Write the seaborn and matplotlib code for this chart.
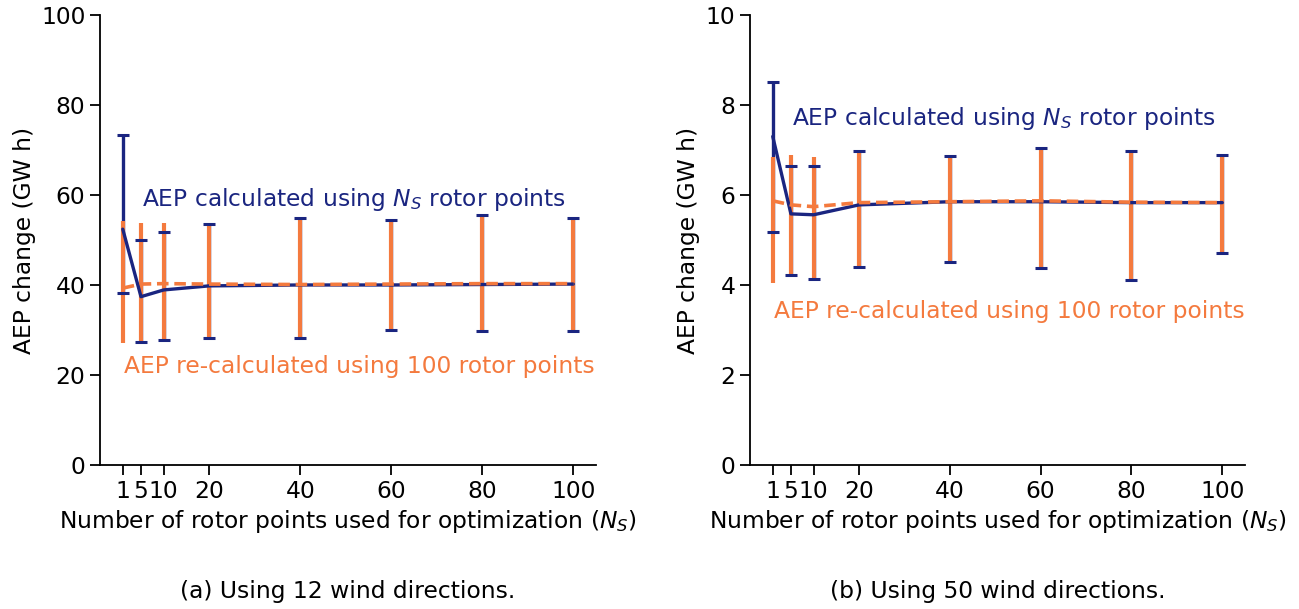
import numpy as np
import pandas as pd
import seaborn as sns
import matplotlib
matplotlib.use("Agg")
import matplotlib.pyplot as plt

# -------- Data -------- #

n_points = [1, 5, 10, 20, 40, 60, 80, 100]
tick_labels = ["1", "5", "10", "20", "40", "60", "80", "100"]

# (a) 12 wind directions
a_calc_mean = [52.4, 37.4, 38.9, 39.8, 40.0, 40.0, 40.1, 40.2]
a_calc_low = [38.3, 27.4, 27.8, 28.2, 28.2, 29.9, 29.8, 29.8]
a_calc_high = [73.3, 50.1, 51.8, 53.6, 54.8, 54.5, 55.6, 54.8]
a_re_mean = [39.3, 40.2, 40.3, 40.2, 40.1, 40.2, 40.3, 40.3]
a_re_low = [27.2, 27.5, 27.9, 28.3, 28.3, 30.0, 29.9, 29.9]
a_re_high = [54.2, 53.7, 53.8, 53.5, 54.7, 54.4, 55.5, 54.7]

# (b) 50 wind directions
b_calc_mean = [7.30, 5.58, 5.56, 5.78, 5.85, 5.85, 5.83, 5.83]
b_calc_low = [5.18, 4.22, 4.13, 4.41, 4.51, 4.37, 4.10, 4.70]
b_calc_high = [8.52, 6.65, 6.65, 6.98, 6.87, 7.05, 6.98, 6.89]
b_re_mean = [5.87, 5.78, 5.74, 5.83, 5.85, 5.87, 5.84, 5.83]
b_re_low = [4.04, 4.24, 4.15, 4.42, 4.52, 4.38, 4.11, 4.71]
b_re_high = [6.85, 6.89, 6.85, 6.97, 6.86, 7.04, 6.97, 6.88]

BLUE = "#1a2580"
ORANGE = "#f47a3e"
FS = 16.8


def draw_panel(ax, calc_mean, calc_low, calc_high, re_mean, re_low, re_high,
               ymax, yticks, calc_txt_y, re_txt_y, caption):
    calc_mean = np.array(calc_mean)
    re_mean = np.array(re_mean)
    calc_err = [calc_mean - np.array(calc_low), np.array(calc_high) - calc_mean]
    re_err = [re_mean - np.array(re_low), np.array(re_high) - re_mean]

    # blue error bars with caps (caps drawn above the orange bars)
    _, caps, bars = ax.errorbar(n_points, calc_mean, yerr=calc_err, fmt="none",
                                ecolor=BLUE, elinewidth=2.4, capsize=4, capthick=2.2,
                                zorder=1)
    for c in caps:
        c.set_zorder(3)
    # orange error bars, no caps
    ax.errorbar(n_points, re_mean, yerr=re_err, fmt="none", ecolor=ORANGE,
                elinewidth=3.0, capsize=0, zorder=2)

    df = pd.DataFrame({"n": n_points, "calc": calc_mean, "re": re_mean})
    sns.lineplot(data=df, x="n", y="calc", ax=ax, color=BLUE, linewidth=2.4,
                 zorder=4)
    sns.lineplot(data=df, x="n", y="re", ax=ax, color=ORANGE, linewidth=2.6,
                 linestyle=(0, (3.2, 1.6)), zorder=5)

    ax.text(5.2, calc_txt_y, "AEP calculated using $N_S$ rotor points",
            color=BLUE, ha="left", va="center", fontsize=FS)
    ax.text(1.2, re_txt_y, "AEP re-calculated using 100 rotor points",
            color=ORANGE, ha="left", va="center", fontsize=FS)

    ax.set_xlim(-4, 105)
    ax.set_ylim(0, ymax)
    ax.set_xticks(n_points)
    ax.set_xticklabels(tick_labels)
    ax.set_yticks(yticks)
    ax.set_xlabel("Number of rotor points used for optimization ($N_S$)", fontsize=FS)
    ax.set_ylabel("AEP change (GW h)", fontsize=FS)
    ax.tick_params(labelsize=FS, length=7, width=1.3, colors="black")
    for s in ["left", "bottom"]:
        ax.spines[s].set_linewidth(1.3)
        ax.spines[s].set_color("black")
    sns.despine(ax=ax)

    pos = ax.get_position()
    ax.figure.text((pos.x0 + pos.x1) / 2, 0.028, caption, ha="center",
                   va="center", fontsize=FS)


sns.set_style("ticks")
plt.rcParams["font.family"] = ["DejaVu Sans"]
plt.rcParams["mathtext.fontset"] = "dejavusans"
plt.rcParams["text.color"] = "black"
plt.rcParams["axes.labelcolor"] = "black"

fig = plt.figure(figsize=(12.99, 6.09), dpi=100)
ax_a = fig.add_axes([0.077, 0.2365, 0.3818, 0.7389])
ax_b = fig.add_axes([0.5774, 0.2365, 0.3810, 0.7389])

draw_panel(ax_a, a_calc_mean, a_calc_low, a_calc_high,
           a_re_mean, a_re_low, a_re_high,
           100, [0, 20, 40, 60, 80, 100], 58.9, 21.8,
           "(a) Using 12 wind directions.")
draw_panel(ax_b, b_calc_mean, b_calc_low, b_calc_high,
           b_re_mean, b_re_low, b_re_high,
           10, [0, 2, 4, 6, 8, 10], 7.71, 3.42,
           "(b) Using 50 wind directions.")

fig.savefig("out.png", dpi=100)
plt.close(fig)
